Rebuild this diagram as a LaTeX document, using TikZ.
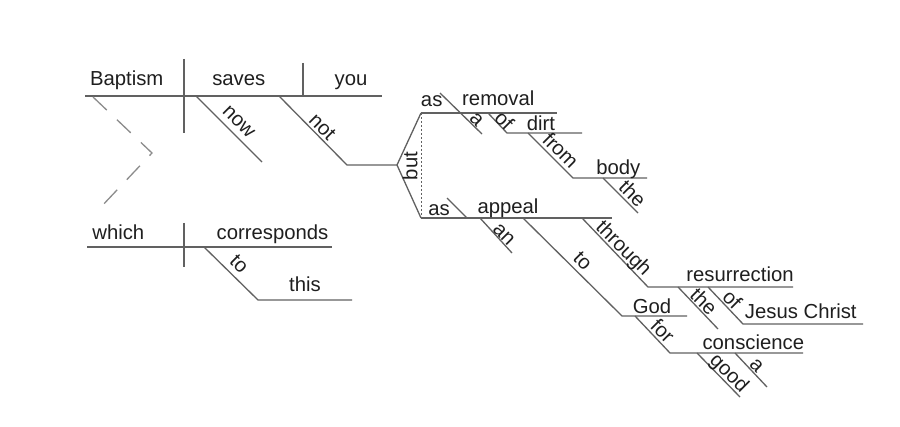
\documentclass[tikz,border=0pt]{standalone}
\usepackage{fontspec}
\setmainfont{Liberation Sans}
\usetikzlibrary{calc}
\begin{document}
\begin{tikzpicture}[x=0.5pt,y=-0.5pt,
  every node/.style={font=\fontsize{10.15pt}{12pt}\selectfont, text=black!88, inner sep=0pt},
  dl/.style={draw=black!62, line width=0.65pt},
  dotl/.style={draw=black!62, line width=0.45pt, dash pattern=on 1pt off 1pt},
  dashl/.style={draw=black!45, line width=0.65pt, dash pattern=on 9.5pt off 7pt},
  word/.style={anchor=base},
  slab/.style={anchor=mid, rotate=-45},
  vlab/.style={anchor=mid, rotate=90}]
\useasboundingbox[fill=white] (0,0) rectangle (900,427);

% ---------- main clause ----------
\coordinate (m0) at (85,96);   \coordinate (m1) at (382,96);
\coordinate (d1a) at (184,59); \coordinate (d1b) at (184,133);
\coordinate (d2a) at (303,63); \coordinate (d2b) at (303,96);
\coordinate (now0) at (196,96); \coordinate (now1) at (262,162);
\coordinate (not0) at (279,96); \coordinate (not1) at (347,165);
\coordinate (bv) at (397,165);
\coordinate (up0) at (421,113); \coordinate (up1) at (557,113);
\coordinate (lo0) at (421,218); \coordinate (lo1) at (612,218);
\draw[dl] (m0) -- (m1);
\draw[dl] (d1a) -- (d1b);
\draw[dl] (d2a) -- (d2b);
\draw[dl] (now0) -- (now1);
\draw[dl] (not0) -- (not1) -- (bv);
\draw[dl] (up0) -- (bv) -- (lo0);
\draw[dotl] (up0) -- (lo0);
\draw[dl] (up0) -- (up1);
\draw[dl] (lo0) -- (lo1);

\node[word] (wBaptism) at (126.7,86) {Baptism};
\node[word] (wsaves) at (238.8,86) {saves};
\node[word] (wyou) at (351,86) {you};
\node[slab] (lnow) at ($(now0)!0.52!(now1)!5.8pt!90:(now1)$) {now};
\node[slab] (lnot) at ($(not0)!0.54!(not1)!4.2pt!90:(not1)$) {not};
\node[vlab] (lbut) at (412,166) {but};

% upper branch: as removal
\coordinate (a10) at (440,93);  \coordinate (a11) at (482,134);
\coordinate (of10) at (488,113); \coordinate (of11) at (507,133); \coordinate (of12) at (582,133);
\coordinate (fr0) at (528,133); \coordinate (fr1) at (573,178); \coordinate (fr2) at (647,178);
\coordinate (th10) at (603,178); \coordinate (th11) at (638,213);
\draw[dl] (a10) -- (a11);
\draw[dl] (of10) -- (of11) -- (of12);
\draw[dl] (fr0) -- (fr1) -- (fr2);
\draw[dl] (th10) -- (th11);
\node[word] (was1) at (431.7,106.5) {as};
\node[word] (wremoval) at (498.3,106) {removal};
\node[word] (wdirt) at (541,130.5) {dirt};
\node[word] (wbody) at (618.3,175) {body};
\node[slab] (la1) at ($(a10)!0.76!(a11)!3.2pt!90:(a11)$) {a};
\node[slab] (lof1) at ($(of10)!0.6!(of11)!2.6pt!90:(of11)$) {of};
\node[slab] (lfrom) at ($(fr0)!0.56!(fr1)!4.5pt!90:(fr1)$) {from};
\node[slab] (lthe1) at ($(th10)!0.64!(th11)!4.2pt!90:(th11)$) {the};

% lower branch: as appeal
\coordinate (as20) at (447,198); \coordinate (as21) at (467,218);
\coordinate (an0) at (480,218); \coordinate (an1) at (512,253);
\coordinate (to20) at (523,218); \coordinate (to21) at (622,316); \coordinate (to22) at (687,316);
\coordinate (tg0) at (582,218); \coordinate (tg1) at (648,287); \coordinate (tg2) at (793,287);
\coordinate (th20) at (678,287); \coordinate (th21) at (718,329);
\coordinate (of20) at (708,287); \coordinate (of21) at (743,324); \coordinate (of22) at (863,324);
\coordinate (fo0) at (635,316); \coordinate (fo1) at (670,353); \coordinate (fo2) at (803,353);
\coordinate (go0) at (697,353); \coordinate (go1) at (740,397);
\coordinate (a20) at (735,353); \coordinate (a21) at (767,387);
\draw[dl] (as20) -- (as21);
\draw[dl] (an0) -- (an1);
\draw[dl] (to20) -- (to21) -- (to22);
\draw[dl] (tg0) -- (tg1) -- (tg2);
\draw[dl] (th20) -- (th21);
\draw[dl] (of20) -- (of21) -- (of22);
\draw[dl] (fo0) -- (fo1) -- (fo2);
\draw[dl] (go0) -- (go1);
\draw[dl] (a20) -- (a21);
\node[word] (was2) at (439,215.5) {as};
\node[word] (wappeal) at (508,214) {appeal};
\node[word] (wGod) at (652,313.5) {God};
\node[word] (wres) at (740,281.5) {resurrection};
\node[word] (wJC) at (800.8,318.5) {Jesus Christ};
\node[word] (wcons) at (753.3,350) {conscience};
\node[slab] (lan) at ($(an0)!0.6!(an1)!3pt!90:(an1)$) {an};
\node[slab] (lto2) at ($(to20)!0.52!(to21)!5.3pt!90:(to21)$) {to};
\node[slab] (lthrough) at ($(tg0)!0.53!(tg1)!4.1pt!90:(tg1)$) {through};
\node[slab] (lthe2) at ($(th20)!0.49!(th21)!3.5pt!90:(th21)$) {the};
\node[slab] (lof2) at ($(of20)!0.5!(of21)!3.8pt!90:(of21)$) {of};
\node[slab] (lfor) at ($(fo0)!0.58!(fo1)!4.2pt!90:(fo1)$) {for};
\node[slab] (lgood) at ($(go0)!0.6!(go1)!4.1pt!90:(go1)$) {good};
\node[slab] (la2) at ($(a20)!0.51!(a21)!3.5pt!90:(a21)$) {a};

% ---------- which clause ----------
\coordinate (w0) at (87,247); \coordinate (w1) at (332,247);
\coordinate (d3a) at (184,223); \coordinate (d3b) at (184,267);
\coordinate (tw0) at (204,247); \coordinate (tw1) at (258,300); \coordinate (tw2) at (352,300);
\draw[dl] (w0) -- (w1);
\draw[dl] (d3a) -- (d3b);
\draw[dl] (tw0) -- (tw1) -- (tw2);
\node[word] (wwhich) at (118.3,240) {which};
\node[word] (wcorr) at (272.5,240) {corresponds};
\node[word] (wthis) at (305,291.7) {this};
\node[slab] (ltow) at ($(tw0)!0.49!(tw1)!5.6pt!90:(tw1)$) {to};

% dashed connector between the clauses
\coordinate (ds0) at (93,97); \coordinate (ds1) at (152,153); \coordinate (ds2) at (100,208);
\draw[dashl] (ds0) -- (ds1) -- (ds2);
\end{tikzpicture}
\end{document}
